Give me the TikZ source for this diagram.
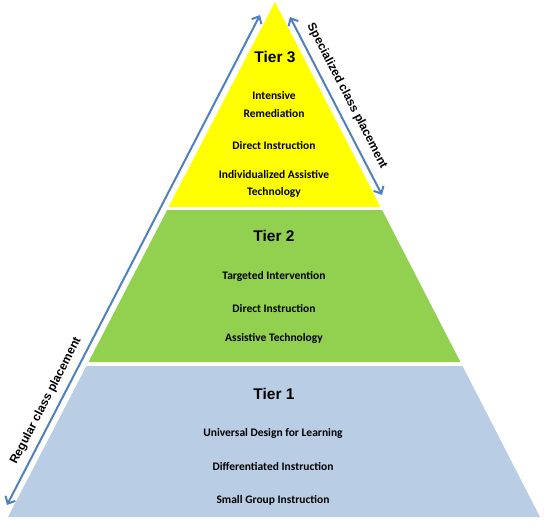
\documentclass[tikz,border=0pt]{standalone}
\usepackage{fontspec}
\setmainfont{Carlito}
\newfontfamily\arialfont{Liberation Sans}
\usetikzlibrary{arrows.meta}

\definecolor{tieryellow}{HTML}{FFFF00}
\definecolor{tiergreen}{HTML}{92D050}
\definecolor{tierblue}{HTML}{B9CDE5}
\definecolor{arrowblue}{HTML}{4F81BD}

\begin{document}
\begin{tikzpicture}[x=1pt, y=-1pt,
	tiertitle/.style={font=\arialfont\bfseries\fontsize{15.5}{18}\selectfont},
	item/.style={font=\bfseries\fontsize{11.5}{17.5}\selectfont, align=center},
	side/.style={font=\arialfont\bfseries\fontsize{12}{14}\selectfont},
	placement/.style={arrowblue, line width=2pt, {Straight Barb[length=6pt,width=11pt]}-{Straight Barb[length=6pt,width=11pt]}}]
	\useasboundingbox (0,0) rectangle (549,528);
	
	% 1. 三层金字塔
	\fill[tieryellow] (275,2) -- (380.5,207) -- (168.5,207) -- cycle;
	\fill[tiergreen] (167.2,210) -- (382.1,210) -- (460.4,362) -- (88.5,362) -- cycle;
	\fill[tierblue] (86.4,366) -- (462.5,366) -- (540,517) -- (8,517) -- cycle;
	
	% 2. 各层标题与内容
	\node[tiertitle] (t3) at (275,57) {Tier 3};
	\node[item] (t3a) at (274,104.5) {Intensive\\Remediation};
	\node[item] (t3b) at (274,145) {Direct Instruction};
	\node[item] (t3c) at (274,184) {Individualized Assistive\\Technology};
	
	\node[tiertitle] (t2) at (274,236) {Tier 2};
	\node[item] (t2a) at (274,276) {Targeted Intervention};
	\node[item] (t2b) at (274,308) {Direct Instruction};
	\node[item] (t2c) at (274,338) {Assistive Technology};
	
	\node[tiertitle] (t1) at (274,394) {Tier 1};
	\node[item] (t1a) at (273,433) {Universal Design for Learning};
	\node[item] (t1b) at (273,466) {Differentiated Instruction};
	\node[item] (t1c) at (273,500) {Small Group Instruction};
	
	% 3. 两侧双向箭头及说明
	\coordinate (reg-bot) at (7,505);
	\coordinate (reg-top) at (260,15);
	\coordinate (spec-top) at (290,17);
	\coordinate (spec-bot) at (382,195);
	\draw[placement] (reg-bot) -- (reg-top);
	\draw[placement] (spec-top) -- (spec-bot);
	\node[side, rotate=62.7] (reg) at (46,401) {Regular class placement};
	\node[side, rotate=-62.7] (spec) at (347,96) {Specialized class placement};
\end{tikzpicture}
\end{document}
